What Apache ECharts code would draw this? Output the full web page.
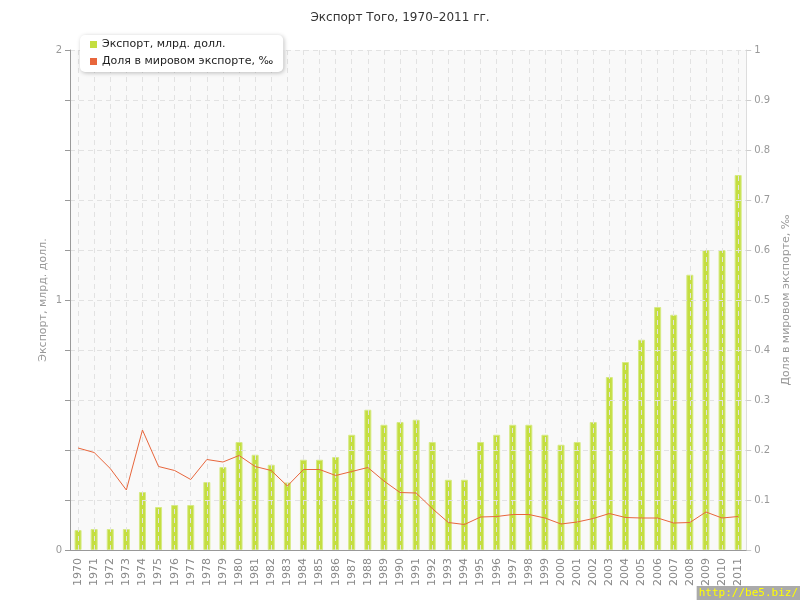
<!DOCTYPE html>
<html><head><meta charset="utf-8">
<script src="https://cdn.jsdelivr.net/npm/echarts@6/dist/echarts.min.js"></script>
<style>html,body{margin:0;padding:0;background:#fff}#c{width:800px;height:600px}</style>
</head><body><div id="c"></div>
<script>
const years = ['1970','1971','1972','1973','1974','1975','1976','1977','1978','1979','1980','1981','1982','1983','1984','1985','1986','1987','1988','1989','1990','1991','1992','1993','1994','1995','1996','1997','1998','1999','2000','2001','2002','2003','2004','2005','2006','2007','2008','2009','2010','2011'];
const exportValues = [0.08,0.084,0.084,0.084,0.232,0.172,0.18,0.18,0.272,0.332,0.432,0.381,0.341,0.27,0.361,0.361,0.372,0.461,0.561,0.501,0.512,0.521,0.432,0.281,0.281,0.432,0.461,0.501,0.501,0.461,0.421,0.432,0.512,0.692,0.752,0.841,0.972,0.941,1.101,1.2,1.2,1.5];
const shareValues = [0.204,0.195,0.163,0.12,0.24,0.167,0.159,0.141,0.181,0.176,0.189,0.167,0.159,0.128,0.161,0.161,0.149,0.157,0.165,0.138,0.115,0.114,0.083,0.055,0.051,0.066,0.067,0.071,0.071,0.064,0.052,0.056,0.063,0.073,0.065,0.064,0.064,0.054,0.055,0.076,0.064,0.067];
const seriesNames = ['Экспорт, млрд. долл.', 'Доля в мировом экспорте, ‰'];
const titleText = 'Экспорт Того, 1970–2011 гг.';

const chart = echarts.init(document.getElementById('c'));
const FONT = 'DejaVu Sans';
chart.setOption({
  animation: false,
  textStyle: {fontFamily: FONT},
  title: {text: titleText, left: 'center', top: 7, textStyle: {fontFamily: FONT, fontSize: 12, fontWeight: 'normal', color: '#333'}},
  legend: {
    orient: 'vertical', left: 80, top: 35, padding: [4, 10, 5, 10],
    backgroundColor: '#fff', borderRadius: 5, shadowBlur: 4, shadowColor: 'rgba(0,0,0,0.25)', shadowOffsetX: 1, shadowOffsetY: 1,
    itemWidth: 7, itemHeight: 7, itemGap: 6, icon: 'rect',
    itemStyle: {borderWidth: 0},
    textStyle: {fontFamily: FONT, fontSize: 11, color: '#222'},
    data: seriesNames
  },
  grid: {left: 70, right: 50, top: 50, bottom: 50, show: true, backgroundColor: '#f9f9f9', borderWidth: 0},
  xAxis: {
    type: 'category', data: years, z: 3,
    axisLine: {lineStyle: {color: '#999'}},
    axisTick: {alignWithLabel: true, length: 4, lineStyle: {color: '#999'}},
    axisLabel: {rotate: 90, fontSize: 11, color: '#888', margin: 8, interval: 0},
    splitLine: {show: true, alignWithLabel: true, lineStyle: {color: '#e2e2e2', type: [5, 4]}}
  },
  yAxis: [{
    type: 'value', min: 0, max: 2, interval: 0.2, position: 'left', z: 3,
    name: 'Экспорт, млрд. долл.', nameLocation: 'middle', nameGap: 21, nameRotate: 90, nameMoveOverlap: false,
    nameTextStyle: {fontSize: 11, color: '#999'},
    axisLine: {show: true, lineStyle: {color: '#999'}},
    axisTick: {show: true, length: 5, lineStyle: {color: '#999'}},
    axisLabel: {fontSize: 10, color: '#999', margin: 8, formatter: v => (Math.abs(v - Math.round(v)) < 1e-6 ? String(Math.round(v)) : '')},
    splitLine: {show: true, lineStyle: {color: '#e2e2e2', type: [5, 4]}}
  }, {
    type: 'value', min: 0, max: 1, interval: 0.1, position: 'right',
    name: 'Доля в мировом экспорте, ‰', nameLocation: 'middle', nameGap: 30, nameRotate: 90,
    nameTextStyle: {fontSize: 11, color: '#999'},
    axisLine: {show: true, lineStyle: {color: '#ddd'}},
    axisTick: {show: true, length: 5, lineStyle: {color: '#ccc'}},
    axisLabel: {fontSize: 10, color: '#999', margin: 8, formatter: v => String(Math.round(v * 10) / 10)},
    splitLine: {show: false}
  }],
  series: [{
    name: seriesNames[0], type: 'bar', data: exportValues, yAxisIndex: 0, barWidth: 7, z: 2,
    itemStyle: {color: '#c4de40', borderColor: '#d6ea84', borderWidth: 1}
  }, {
    name: seriesNames[1], type: 'line', data: shareValues, yAxisIndex: 1, z: 5,
    symbol: 'none', lineStyle: {color: '#e8663c', width: 1}, itemStyle: {color: '#e8663c'}
  }],
  graphic: [{
    type: 'text', right: 0, bottom: 0, z: 100,
    style: {text: 'http://be5.biz/', fill: '#ffff00', backgroundColor: '#aaaaaa', font: '11px "DejaVu Sans Mono"', padding: [2, 2, 1, 2]}
  }]
});
</script></body></html>
